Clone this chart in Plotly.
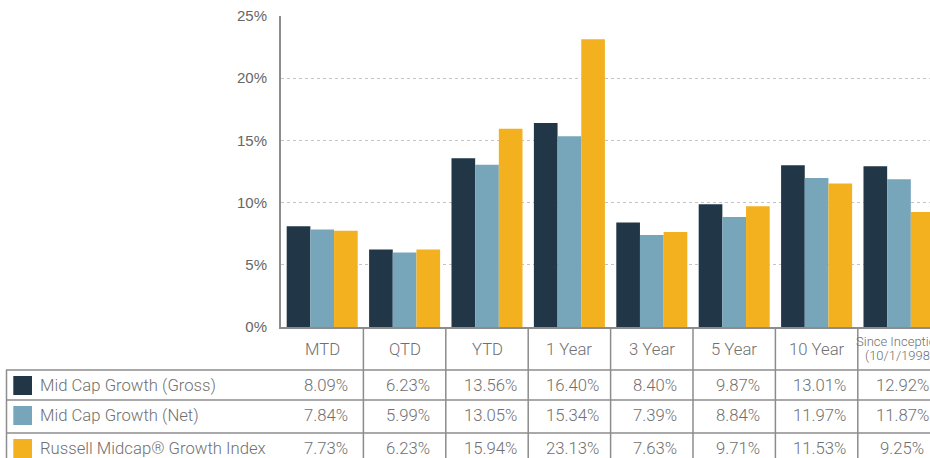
import plotly.graph_objects as go

categories = ["MTD", "QTD", "YTD", "1 Year", "3 Year", "5 Year", "10 Year",
              "Since Inception<br>(10/1/1998)"]
series_names = ["Mid Cap Growth (Gross)", "Mid Cap Growth (Net)",
                "Russell Midcap® Growth Index"]
gross = [8.09, 6.23, 13.56, 16.40, 8.40, 9.87, 13.01, 12.92]
net = [7.84, 5.99, 13.05, 15.34, 7.39, 8.84, 11.97, 11.87]
index_vals = [7.73, 6.23, 15.94, 23.13, 7.63, 9.71, 11.53, 9.25]
series_values = [gross, net, index_vals]
colors = ["#213646", "#77a6bb", "#f3b11f"]
y_ticks = [0, 5, 10, 15, 20, 25]

W, H = 930, 458
L, T, Bm = 281, 16, 131
PW = W - L
PH = H - T - Bm
BOTTOM = H - Bm


def px(x):
    return (x - L) / PW


def py(y):
    return (BOTTOM - y) / PH


TEXT_COLOR = "#707070"
LINE_COLOR = "#8c8c8c"
TABLE_FONT = "Roboto, Noto Sans, sans-serif"
FW = 300
FS = 16.7

fig = go.Figure()
xs = list(range(len(categories)))
for name, vals, col in zip(series_names, series_values, colors):
    fig.add_trace(go.Bar(x=xs, y=vals, name=name, marker=dict(color=col, line=dict(width=0)),
                         hoverinfo="skip"))

shapes = []
annotations = []

# column separators between categories
for i in range(len(categories) - 1):
    shapes.append(dict(type="line", xref="x", yref="paper", x0=i + 0.5, x1=i + 0.5,
                       y0=0, y1=py(H + 5), line=dict(color=LINE_COLOR, width=1.5)))

# horizontal row lines of the table
row_tops = [370, 400, 433]
for y in row_tops:
    shapes.append(dict(type="line", xref="paper", yref="paper", x0=px(6), x1=1.02,
                       y0=py(y), y1=py(y), line=dict(color=LINE_COLOR, width=1.5)))
# left border
shapes.append(dict(type="line", xref="paper", yref="paper", x0=px(6.5), x1=px(6.5),
                   y0=py(370), y1=py(H + 5), line=dict(color=LINE_COLOR, width=1.5)))

# headers
for i, cat in enumerate(categories):
    parts = cat.split("<br>")
    if len(parts) == 1:
        annotations.append(dict(x=i, y=py(349), xref="x", yref="paper", text=cat,
                                showarrow=False, xanchor="center", yanchor="middle",
                                font=dict(family=TABLE_FONT, size=FS, color=TEXT_COLOR,
                                          weight=FW)))
    else:
        for k, p in enumerate(parts):
            annotations.append(dict(x=i, y=py(341 + 14.5 * k), xref="x", yref="paper", text=p,
                                    showarrow=False, xanchor="center", yanchor="middle",
                                    font=dict(family=TABLE_FONT, size=13, color=TEXT_COLOR,
                                              weight=FW)))

# table rows
for r, (name, vals, col) in enumerate(zip(series_names, series_values, colors)):
    top = row_tops[r]
    cy = top + 15.5
    shapes.append(dict(type="rect", xref="paper", yref="paper", x0=px(13.3), x1=px(32),
                       y0=py(cy - 9.5), y1=py(cy + 9.5), fillcolor=col, line=dict(width=0)))
    annotations.append(dict(x=px(38), y=py(cy), xref="paper", yref="paper", text=name,
                            showarrow=False, xanchor="left", yanchor="middle",
                            font=dict(family=TABLE_FONT, size=FS, color=TEXT_COLOR,
                                      weight=FW)))
    for i, v in enumerate(vals):
        annotations.append(dict(x=i + 0.04, y=py(cy), xref="x", yref="paper",
                                text=f"{v:.2f}%", showarrow=False,
                                xanchor="center", yanchor="middle",
                                font=dict(family=TABLE_FONT, size=FS, color=TEXT_COLOR,
                                          weight=FW)))

fig.update_layout(
    width=W, height=H,
    margin=dict(l=L, r=0, t=T, b=Bm, pad=0),
    paper_bgcolor="white", plot_bgcolor="white",
    barmode="group", bargap=0.138, bargroupgap=0,
    showlegend=False,
    shapes=shapes, annotations=annotations,
    xaxis=dict(range=[-0.5, -0.5 + PW / 82.4], showticklabels=False, ticks="",
               showgrid=False, zeroline=False, showline=True, linecolor=LINE_COLOR,
               linewidth=2, fixedrange=True),
    yaxis=dict(range=[0, 25], tickvals=y_ticks, ticktext=[f"{t}%" for t in y_ticks],
               showgrid=True, gridcolor="#c4c4c4", griddash="dot", gridwidth=1.3,
               zeroline=False, showline=True, linecolor=LINE_COLOR, linewidth=2,
               ticks="outside", ticklen=9, tickcolor="rgba(0,0,0,0)",
               tickfont=dict(family="Liberation Sans, Arial, sans-serif", size=15,
                             color="#666666"),
               fixedrange=True),
)

fig.write_html(
    "out.html",
    config={"displayModeBar": False},
    post_script=("document.body.style.margin='0';"
                 "document.body.style.overflow='hidden';"
                 "document.documentElement.style.overflow='hidden';"),
)
